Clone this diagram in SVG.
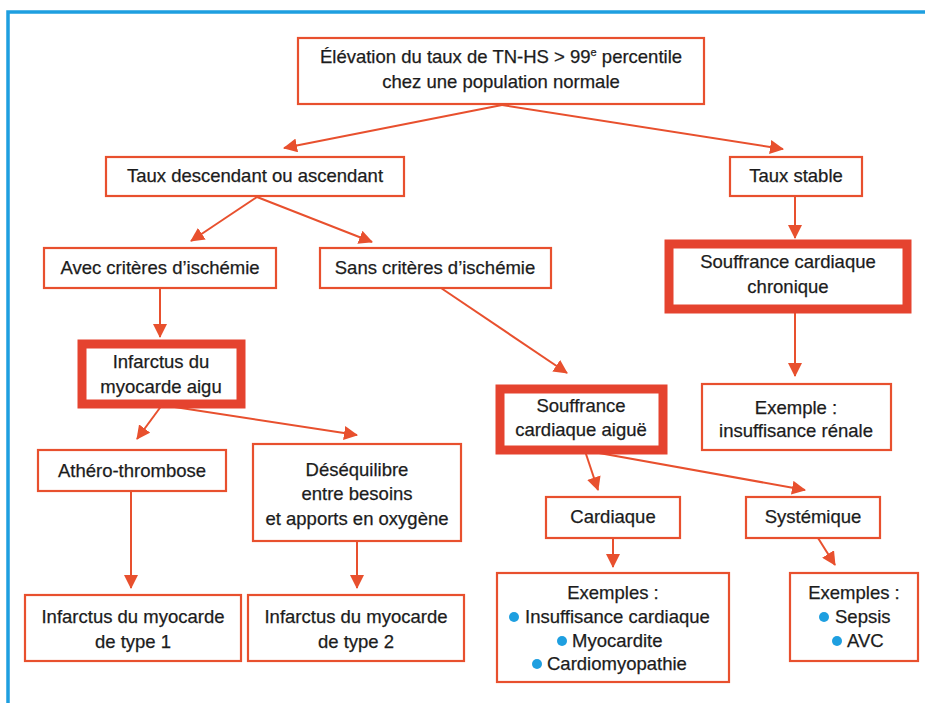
<svg xmlns="http://www.w3.org/2000/svg" width="925" height="703" viewBox="0 0 925 703">
<style>
.box{fill:#fff;stroke:#e8502e;stroke-width:2.2}
.thick{fill:#fff;stroke:#e5432f;stroke-width:9}
.t{font-family:"Liberation Sans",Arial,sans-serif;font-size:18.5px;fill:#1c1c1c;stroke:#1c1c1c;stroke-width:0.25;text-anchor:middle}
.ts{font-family:"Liberation Sans",Arial,sans-serif;font-size:18.5px;fill:#1c1c1c;stroke:#1c1c1c;stroke-width:0.25;text-anchor:start}
.dot{fill:#1e9fe0}
.c{stroke:#e8502e;stroke-width:2;fill:none;marker-end:url(#ah)}
</style>
<defs>
<marker id="ah" viewBox="0 0 14 14" refX="13" refY="7" markerWidth="14" markerHeight="14" markerUnits="userSpaceOnUse" orient="auto">
<path d="M0,0 L14,7 L0,14 z" fill="#e8502e"/>
</marker>
</defs>
<rect width="925" height="703" fill="#fff"/>
<polyline points="925,12 8,12 8,703" fill="none" stroke="#1e9fe0" stroke-width="3.5"/>

<g id="connectors">
<line class="c" x1="502" y1="105" x2="284" y2="148"/>
<line class="c" x1="502" y1="105" x2="783" y2="149"/>
<line class="c" x1="257" y1="197" x2="191" y2="241"/>
<line class="c" x1="257" y1="197" x2="372" y2="242"/>
<line class="c" x1="795" y1="197" x2="795" y2="238"/>
<line class="c" x1="160" y1="288" x2="160" y2="337"/>
<line class="c" x1="441" y1="288" x2="567" y2="373"/>
<line class="c" x1="795" y1="313" x2="795" y2="376"/>
<line class="c" x1="162" y1="405" x2="137" y2="439"/>
<line class="c" x1="168" y1="406" x2="357" y2="435"/>
<line class="c" x1="131" y1="491" x2="131" y2="588"/>
<line class="c" x1="357" y1="541" x2="357" y2="588"/>
<line class="c" x1="585" y1="451" x2="598" y2="490"/>
<line class="c" x1="588" y1="451" x2="805" y2="490"/>
<line class="c" x1="613" y1="538" x2="613" y2="567"/>
<line class="c" x1="818" y1="538" x2="835" y2="565"/>
</g>

<g id="n-elevation">
<rect class="box" x="298" y="38" width="406" height="66"/>
<text class="t" x="501" y="63">Élévation du taux de TN-HS &gt; 99<tspan font-size="11" dy="-7">e</tspan><tspan dy="7"> percentile</tspan></text>
<text class="t" x="501" y="88">chez une population normale</text>
</g>
<g id="n-desc">
<rect class="box" x="106" y="157" width="298" height="39"/>
<text class="t" x="255" y="182">Taux descendant ou ascendant</text>
</g>
<g id="n-stable">
<rect class="box" x="730" y="157" width="132" height="39"/>
<text class="t" x="796" y="182">Taux stable</text>
</g>
<g id="n-avec">
<rect class="box" x="44" y="248" width="232" height="40"/>
<text class="t" x="160" y="274">Avec critères d’ischémie</text>
</g>
<g id="n-sans">
<rect class="box" x="320" y="248" width="231" height="40"/>
<text class="t" x="435" y="274">Sans critères d’ischémie</text>
</g>
<g id="n-chronique">
<rect class="thick" x="669" y="244" width="238" height="65"/>
<text class="t" x="788" y="268">Souffrance cardiaque</text>
<text class="t" x="788" y="293">chronique</text>
</g>
<g id="n-ima">
<rect class="thick" x="82" y="344" width="159" height="60"/>
<text class="t" x="161" y="368">Infarctus du</text>
<text class="t" x="161" y="393">myocarde aigu</text>
</g>
<g id="n-aigue">
<rect class="thick" x="500" y="389" width="163" height="61"/>
<text class="t" x="581" y="412">Souffrance</text>
<text class="t" x="581" y="436">cardiaque aiguë</text>
</g>
<g id="n-exemple-renale">
<rect class="box" x="702" y="384" width="189" height="66"/>
<text class="t" x="796" y="414">Exemple :</text>
<text class="t" x="796" y="437">insuffisance rénale</text>
</g>
<g id="n-athero">
<rect class="box" x="38" y="450" width="188" height="41"/>
<text class="t" x="132" y="477">Athéro-thrombose</text>
</g>
<g id="n-desequilibre">
<rect class="box" x="253" y="444" width="208" height="97"/>
<text class="t" x="357" y="476">Déséquilibre</text>
<text class="t" x="357" y="500">entre besoins</text>
<text class="t" x="357" y="525">et apports en oxygène</text>
</g>
<g id="n-cardiaque">
<rect class="box" x="546" y="497" width="134" height="41"/>
<text class="t" x="613" y="523">Cardiaque</text>
</g>
<g id="n-systemique">
<rect class="box" x="746" y="497" width="134" height="41"/>
<text class="t" x="813" y="523">Systémique</text>
</g>
<g id="n-type1">
<rect class="box" x="25" y="595" width="216" height="66"/>
<text class="t" x="133" y="623">Infarctus du myocarde</text>
<text class="t" x="133" y="648">de type 1</text>
</g>
<g id="n-type2">
<rect class="box" x="248" y="595" width="216" height="66"/>
<text class="t" x="356" y="623">Infarctus du myocarde</text>
<text class="t" x="356" y="648">de type 2</text>
</g>
<g id="n-exemples-cardiaque">
<rect class="box" x="497" y="573" width="232" height="109"/>
<text class="t" x="613" y="599">Exemples :</text>
<circle class="dot" cx="514" cy="617" r="5"/>
<text class="ts" x="525" y="623">Insuffisance cardiaque</text>
<circle class="dot" cx="562" cy="641" r="5"/>
<text class="ts" x="572" y="647">Myocardite</text>
<circle class="dot" cx="537" cy="664" r="5"/>
<text class="ts" x="547" y="670">Cardiomyopathie</text>
</g>
<g id="n-exemples-systemique">
<rect class="box" x="790" y="573" width="128" height="88"/>
<text class="t" x="854" y="599">Exemples :</text>
<circle class="dot" cx="824" cy="617" r="5"/>
<text class="ts" x="835" y="623">Sepsis</text>
<circle class="dot" cx="837" cy="641" r="5"/>
<text class="ts" x="847" y="647">AVC</text>
</g>
</svg>
